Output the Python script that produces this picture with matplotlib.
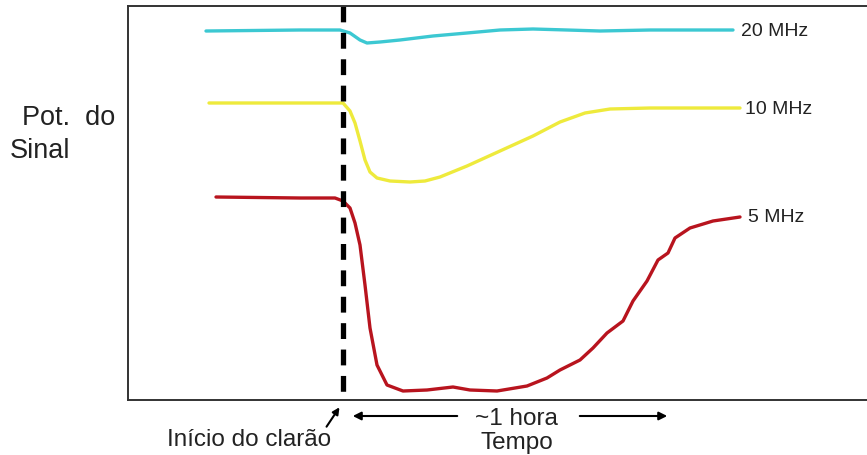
import matplotlib
matplotlib.use("Agg")
import matplotlib.pyplot as plt

plt.rcParams['font.family'] = ['Liberation Sans', 'DejaVu Sans']

# time (px-like units, flare at 0) and signal strength (height above baseline)
t_20 = [-137, -43, -3, 7, 17, 24, 37, 57, 90, 124, 157, 190, 224, 257, 307, 357, 390]
s_20 = [369, 370, 370, 367, 360, 357, 358, 360, 364, 367, 370, 371, 370, 369, 370, 370, 370]

t_10 = [-134, -43, 0, 7, 12, 17, 22, 27, 34, 47, 67, 82, 97, 124, 157, 190, 217, 242, 267, 307, 357, 397]
s_10 = [297, 297, 297, 289, 277, 259, 240, 228, 222, 219, 218, 219, 223, 234, 249, 264, 278, 287, 291, 292, 292, 292]

t_5 = [-127, -43, -8, 0, 7, 12, 17, 22, 27, 34, 44, 60, 84, 110, 127, 154, 184, 204, 217, 237,
       250, 264, 280, 290, 304, 315, 325, 332, 347, 370, 397]
s_5 = [203, 202, 202, 199, 192, 177, 155, 115, 72, 35, 15, 9, 10, 13, 10, 9, 14, 22, 30, 40,
       52, 67, 79, 99, 119, 140, 147, 162, 172, 179, 183]

labels = ["20 MHz", "10 MHz", "5 MHz"]
colors = ["#3cc8d2", "#eeea3c", "#b8141e"]

fig = plt.figure(figsize=(8.67, 4.56), dpi=100)
ax = fig.add_axes([128/867, 1-401/456, 1-128/867, (401-7)/456])
ax.set_xlim(-215, 524)
ax.set_ylim(0, 394)

for t, s, lab, c, dx in zip([t_20, t_10, t_5], [s_20, s_10, s_5], labels, colors, [8, 5, 8]):
    ax.plot(t, s, color=c, lw=2.4, solid_capstyle='round', solid_joinstyle='round')
    ax.text(t[-1] + dx, s[-1], lab, fontsize=14, color="#222222", ha='left', va='center')

# flare start dashed line
ax.plot([0, 0], [1, 0], transform=ax.get_xaxis_transform(), color='black', lw=3.8,
        dashes=(3.0, 2.0), clip_on=False)

for side in ['top', 'left', 'bottom']:
    ax.spines[side].set_color('#333333')
    ax.spines[side].set_linewidth(1.4)
ax.spines['right'].set_visible(False)
ax.set_xticks([])
ax.set_yticks([])

# annotations below axis
ax.annotate("", xy=(7, -16), xytext=(117, -16), annotation_clip=False,
            arrowprops=dict(arrowstyle='-|>', color='black', lw=1.5, mutation_scale=12))
ax.annotate("", xy=(327, -16), xytext=(234, -16), annotation_clip=False,
            arrowprops=dict(arrowstyle='-|>', color='black', lw=1.5, mutation_scale=12))
ax.text(173, -18, "~1 hora", fontsize=17.5, color='#222222', ha='center', va='center', clip_on=False)
ax.text(174, -42, "Tempo", fontsize=17.5, color='#222222', ha='center', va='center', clip_on=False)
ax.text(-94, -39, "Início do clarão", fontsize=17.5, color='#222222', ha='center', va='center', clip_on=False)
ax.annotate("", xy=(-2, -5), xytext=(-18, -29), annotation_clip=False,
            arrowprops=dict(arrowstyle='-|>', color='black', lw=1.5, mutation_scale=10))

fig.text(22/867, 1-118/456, "Pot.  do", fontsize=19.5, color='#222222', ha='left', va='center')
fig.text(10/867, 1-151/456, "Sinal", fontsize=19.5, color='#222222', ha='left', va='center')

fig.savefig("out.png", dpi=100)
